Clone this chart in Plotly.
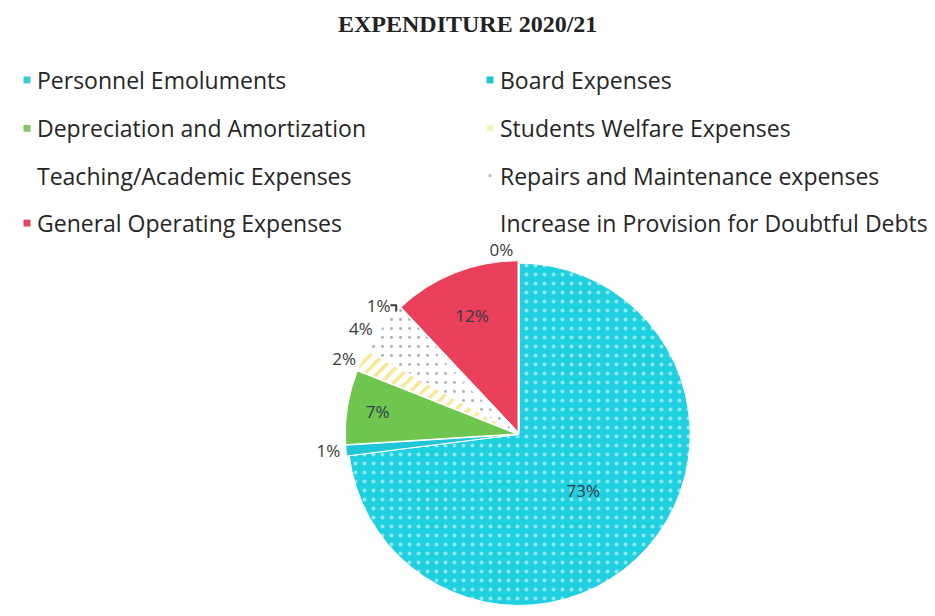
import plotly.graph_objects as go

# Expenditure 2020/21 shares (percent)
labels = [
    "Personnel Emoluments",
    "Board Expenses",
    "Depreciation and Amortization",
    "Students Welfare Expenses",
    "Teaching/Academic Expenses",
    "Repairs and Maintenance expenses",
    "General Operating Expenses",
    "Increase in Provision for Doubtful Debts",
]
values = [73, 1, 7, 2, 4, 1, 12, 0]

colors = ["#1FD0E0", "#1FC6DA", "#6EC64E", "#FFFFFF", "#FFFFFF", "#FFFFFF", "#EB405C", "#FFFFFF"]
legend_marks = ["#3CCAD6", "#1EC6D8", "#82C46E", "#F6F0C0", None, "#B8BEC4", "#E0485E", None]
mark_size = [7, 7, 7, 6, 0, 3, 7, 0]

pattern_shape = [".", "", "", "/", ".", ".", "", ""]
pattern_fg = ["#FFFFFF", "#FFFFFF", "#FFFFFF", "#F2CF2A", "#4E5E74", "#4E5E74", "#FFFFFF", "#FFFFFF"]
pattern_solid = [0.15, 0.15, 0.15, 0.4, 0.08, 0.08, 0.15, 0.15]
text_pos = ["inside", "outside", "inside", "outside", "outside", "outside", "inside", "outside"]
pulls = [0, 0.015, 0.015, 0.015, 0.015, 0.015, 0.015, 0.015]

W, H = 935, 616

fig = go.Figure()
fig.add_trace(go.Pie(
    labels=labels,
    values=values,
    sort=False,
    direction="clockwise",
    rotation=0,
    pull=pulls,
    texttemplate="%{percent:.0%}",
    textposition=text_pos,
    insidetextfont=dict(family="Open Sans, sans-serif", size=17, color="#2E3A4A"),
    outsidetextfont=dict(family="Open Sans, sans-serif", size=17, color="#3A3A3A"),
    marker=dict(
        colors=colors,
        line=dict(color="#FFFFFF", width=1),
        pattern=dict(shape=pattern_shape, fgcolor=pattern_fg, bgcolor=colors,
                     size=9, solidity=pattern_solid, fillmode="overlay"),
    ),
    domain=dict(x=[0.3669, 0.7433], y=[0.0, 0.5714]),
    showlegend=False,
    hoverinfo="label+percent",
))

# hand-built two-column legend
annotations = [dict(
    text="<b>EXPENDITURE 2020/21</b>", x=468 / W, y=1 - 24 / H,
    xref="paper", yref="paper", xanchor="center", yanchor="middle", showarrow=False,
    font=dict(family="Liberation Serif, Times New Roman, serif", size=24, color="#222222"),
)]
shapes = []
col_x = [27, 490]
row_y = [81, 130, 178, 226]
for i, lab in enumerate(labels):
    cx = col_x[i % 2]
    cy = row_y[i // 2]
    annotations.append(dict(
        text=lab, x=(cx + 8) / W, y=1 - cy / H, xref="paper", yref="paper",
        xanchor="left", yanchor="middle", showarrow=False,
        font=dict(family="Open Sans, sans-serif", size=23, color="#262626"),
    ))
    if legend_marks[i]:
        h = mark_size[i] / 2
        shapes.append(dict(
            type="rect", xref="paper", yref="paper",
            x0=(cx - h) / W, x1=(cx + h) / W, y0=1 - (cy + h) / H, y1=1 - (cy - h) / H,
            fillcolor=legend_marks[i], line=dict(width=0),
        ))

fig.update_layout(
    width=W, height=H,
    margin=dict(l=0, r=0, t=0, b=0),
    paper_bgcolor="#FFFFFF",
    plot_bgcolor="#FFFFFF",
    annotations=annotations,
    shapes=shapes,
)

# drop the default page margin so the figure fills the window exactly
fig.write_html("out.html", config={"displayModeBar": False},
               post_script="document.body.style.margin='0px';")
